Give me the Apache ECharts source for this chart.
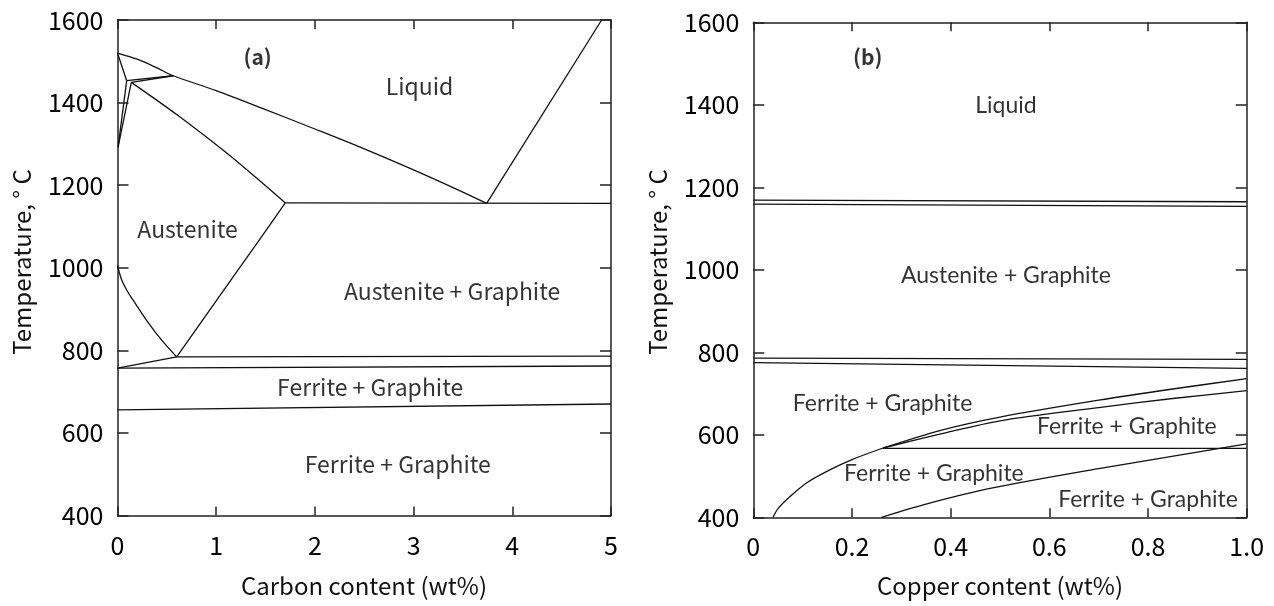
<!DOCTYPE html>
<html><head><meta charset="utf-8">
<script src="https://cdn.jsdelivr.net/npm/echarts@6/dist/echarts.min.js"></script>
<style>html,body{margin:0;padding:0;background:#fff}#c{width:1274px;height:606px}</style>
</head><body><div id="c"></div>
<script>
// ---- tick definitions ----
const yTicks = [400, 600, 800, 1000, 1200, 1400, 1600];
const xTicksA = [0, 1, 2, 3, 4, 5];
const xTicksB = [0, 0.2, 0.4, 0.6, 0.8, 1.0];

// ---- (a) Fe-C diagram lines [wt% C, °C] ----
const liquidusA = [[0,1520],[0.2,1505],[0.4,1484],[0.565,1465],[1.0,1429],[1.5,1383],[2.0,1336],[2.5,1288],[3.0,1237],[3.4,1194],[3.74,1156]];
const graphiteLiquidus = [[3.74,1156],[4.905,1600]];
const deltaSolidus = [[0,1520],[0.093,1453]];
const peritectic1 = [[0.093,1453],[0.565,1465]];
const peritectic2 = [[0.14,1449],[0.565,1465]];
const deltaGamma1 = [[0.093,1453],[0.006,1292]];
const deltaGamma2 = [[0.14,1449],[0.006,1292]];
const austSolidus = [[0.14,1449],[0.6,1371],[1.1,1279],[1.4,1219],[1.70,1157]];
const eutecticA = [[1.70,1157],[5,1156]];
const acmLine = [[0.60,784],[1.0,920],[1.4,1055],[1.70,1157]];
const a3Line = [[0,1006],[0.04,972],[0.1,943],[0.16,921],[0.3,871],[0.45,824],[0.60,784]];
const eutectoidUpper = [[0.60,784],[5,786]];
const a1Slope = [[0,757],[0.60,784]];
const a1Lower = [[0,757],[5,762]];
const lowerLineA = [[0,656],[5,670]];

// ---- (b) Cu diagram lines [wt% Cu, °C] ----
const topLineB1 = [[0,1169],[1,1165]];
const topLineB2 = [[0,1159],[1,1154]];
const midLineB1 = [[0,786],[1,783]];
const midLineB2 = [[0,775],[1,761]];
const solvusB = [[0.04,400],[0.05,421],[0.074,450],[0.11,485],[0.155,515],[0.2,540],[0.263,568]];
const solvusUpperB = [[0.263,568],[0.38,611],[0.5,643],[0.7,684],[0.85,711],[1.0,736]];
const solvusLowerB = [[0.263,568],[0.38,602],[0.5,634],[0.7,666],[0.85,688],[1.0,707]];
const horizB = [[0.263,567],[1.0,567]];
const lowerCurveB = [[0.26,400],[0.35,432],[0.48,470],[0.7,518],[0.93,564],[1.0,578]];

// ---- region labels [x, T, text] ----
const labelsA = [[1.42,1511,'(a)'],[3.06,1440,'Liquid'],[0.71,1092,'Austenite'],[3.39,944,'Austenite + Graphite'],[2.56,711,'Ferrite + Graphite'],[2.84,523,'Ferrite + Graphite']];
const labelsB = [[0.232,1516,'(b)'],[0.512,1397,'Liquid'],[0.512,987,'Austenite + Graphite'],[0.262,675,'Ferrite + Graphite'],[0.757,619,'Ferrite + Graphite'],[0.366,507,'Ferrite + Graphite'],[0.80,444,'Ferrite + Graphite']];

const JP = '"Noto Sans CJK JP", "Noto Sans", sans-serif';
const LAT = 'Lato, "Noto Sans", sans-serif';
const AX = '#222';

function xAx(grid, ticks, pos, fmt) {
  return {
    gridIndex: grid, type: 'value', position: pos,
    min: ticks[0], max: ticks[ticks.length-1], interval: ticks[1]-ticks[0],
    axisLine: {onZero: false, lineStyle: {color: AX, width: 1.5}},
    axisTick: {inside: true, length: 9, lineStyle: {color: AX, width: 1.5}},
    axisLabel: {show: pos === 'bottom', margin: 17, fontSize: 25, fontFamily: JP, color: '#000', formatter: fmt},
    splitLine: {show: false}
  };
}
function yAx(grid, pos) {
  return {
    gridIndex: grid, type: 'value', position: pos,
    min: yTicks[0], max: yTicks[yTicks.length-1], interval: yTicks[1]-yTicks[0],
    axisLine: {onZero: false, lineStyle: {color: AX, width: 1.5}},
    axisTick: {inside: true, length: 11, lineStyle: {color: AX, width: 1.5}},
    axisLabel: {show: pos === 'left', margin: 14, fontSize: 25, fontFamily: JP, color: '#000', formatter: v => String(v)},
    splitLine: {show: false}
  };
}
function ln(data, xi, smooth) {
  return {
    type: 'line', xAxisIndex: xi, yAxisIndex: xi, data: data,
    symbol: 'none', smooth: smooth ? 0.3 : false,
    lineStyle: {color: '#111', width: 1.3}, silent: true, z: 3
  };
}
function lab(arr, xi, font, size) {
  return {
    type: 'scatter', xAxisIndex: xi, yAxisIndex: xi, symbolSize: 1,
    itemStyle: {color: 'rgba(0,0,0,0)'}, silent: true, z: 5,
    data: arr.map(d => ({
      value: [d[0], d[1]],
      label: {
        show: true, position: 'inside', formatter: d[2], color: '#000',
        fontFamily: d[2].charAt(0) === '(' ? JP : font,
        fontSize: d[2].charAt(0) === '(' ? 21 : size,
        fontWeight: d[2].charAt(0) === '(' ? 'bold' : 'normal'
      }
    }))
  };
}

const fmtA = v => String(v);
const fmtB = v => v === 0 ? '0' : v.toFixed(1);

const chart = echarts.init(document.getElementById('c'), null, {renderer: 'canvas'});
chart.setOption({
  animation: false,
  backgroundColor: '#fff',
  grid: [
    {left: 117.5, top: 20, width: 493.5, height: 495.5},
    {left: 753.3, top: 22.3, width: 493.4, height: 495}
  ],
  xAxis: [xAx(0, xTicksA, 'bottom', fmtA), xAx(0, xTicksA, 'top', fmtA), xAx(1, xTicksB, 'bottom', fmtB), xAx(1, xTicksB, 'top', fmtB)],
  yAxis: [yAx(0, 'left'), yAx(0, 'right'), yAx(1, 'left'), yAx(1, 'right')],
  series: [
    ln(liquidusA, 0, true), ln(graphiteLiquidus, 0), ln(deltaSolidus, 0), ln(peritectic1, 0), ln(peritectic2, 0),
    ln(deltaGamma1, 0), ln(deltaGamma2, 0), ln(austSolidus, 0, true), ln(eutecticA, 0), ln(acmLine, 0, true),
    ln(a3Line, 0, true), ln(eutectoidUpper, 0), ln(a1Slope, 0), ln(a1Lower, 0), ln(lowerLineA, 0),
    ln(topLineB1, 2), ln(topLineB2, 2), ln(midLineB1, 2), ln(midLineB2, 2), ln(solvusB, 2, true),
    ln(solvusUpperB, 2, true), ln(solvusLowerB, 2, true), ln(horizB, 2), ln(lowerCurveB, 2, true),
    lab(labelsA, 0, JP, 23), lab(labelsB, 2, LAT, 23)
  ],
  graphic: [
    {type: 'text', x: 364, y: 586, style: {text: 'Carbon content (wt%)', font: '24px ' + JP, fill: '#111', align: 'center', verticalAlign: 'middle'}},
    {type: 'text', x: 1000, y: 586, style: {text: 'Copper content (wt%)', font: '24px ' + JP, fill: '#111', align: 'center', verticalAlign: 'middle'}},
    {type: 'text', x: 22, y: 262, rotation: Math.PI/2, style: {text: 'Temperature, ° C', font: '24px ' + JP, fill: '#111', align: 'center', verticalAlign: 'middle'}},
    {type: 'text', x: 658, y: 262, rotation: Math.PI/2, style: {text: 'Temperature, ° C', font: '24px ' + JP, fill: '#111', align: 'center', verticalAlign: 'middle'}}
  ]
});
</script></body></html>
